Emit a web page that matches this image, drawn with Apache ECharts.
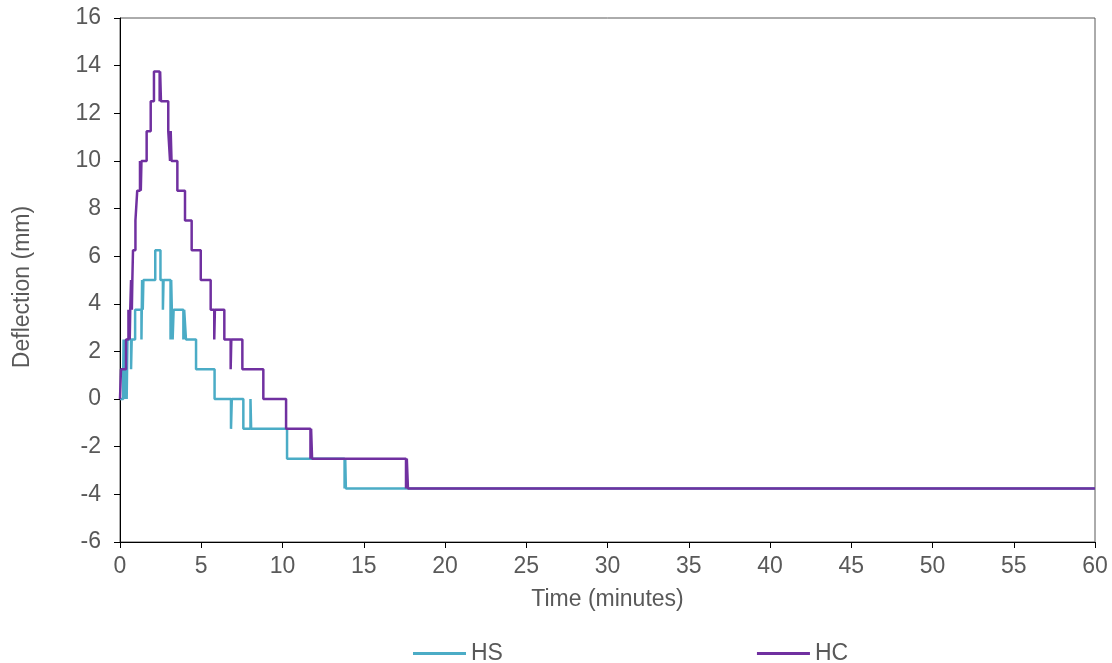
<!DOCTYPE html>
<html>
<head>
<meta charset="utf-8">
<script src="https://cdn.jsdelivr.net/npm/echarts@6/dist/echarts.min.js"></script>
<style>html,body{margin:0;padding:0;background:#fff}#c{width:1112px;height:663px}</style>
</head>
<body>
<div id="c"></div>
<script>
var hsTime = [0,0.20,0.22,0.28,0.33,0.38,0.41,0.46,0.68,0.72,0.93,1.32,1.36,1.40,1.44,2.17,2.49,2.64,2.68,3.11,3.15,3.19,3.24,3.30,3.90,3.95,4.06,4.68,5.82,6.83,6.88,7.59,8.03,8.07,10.28,13.82,13.86,13.90,60];
var hsDefl = [0,1.25,2.5,0,2.5,1.25,0,2.5,1.25,2.5,3.75,2.5,5,3.75,5,6.25,5,3.75,5,2.5,5,3.75,2.5,3.75,2.5,3.75,2.5,1.25,0,-1.25,0,-1.25,0,-1.25,-2.5,-3.75,-2.5,-3.75,-3.75];
var hcTime = [0,0.06,0.37,0.52,0.60,0.63,0.68,0.73,0.76,0.80,0.95,1.06,1.23,1.28,1.32,1.64,1.89,2.09,2.44,2.47,2.52,2.97,3.08,3.12,3.17,3.53,4.00,4.41,4.97,5.58,5.80,5.84,6.42,6.81,6.85,7.53,8.82,10.22,11.72,11.76,11.82,17.60,17.65,17.72,60];
var hcDefl = [0,1.25,2.5,3.75,2.5,3.75,5,3.75,5,6.25,7.5,8.75,10,8.75,10,11.25,12.5,13.75,12.5,13.75,12.5,11.25,10,11.25,10,8.75,7.5,6.25,5,3.75,2.5,3.75,2.5,1.25,2.5,1.25,0,-1.25,-2.5,-1.25,-2.5,-3.75,-2.5,-3.75,-3.75];
var seriesNames = ['HS','HC'];
var xTicks = {min:0,max:60,interval:5};
var yTicks = {min:-6,max:16,interval:2};

function pairs(t,v){return t.map(function(x,i){return [x,v[i]];});}

var font = 'Liberation Sans, Arial, sans-serif';
var fs = 23;
var chart = echarts.init(document.getElementById('c'));
chart.setOption({
  animation:false,
  grid:{left:120,right:17,top:18,bottom:121,show:true,borderColor:'#595959',borderWidth:1},
  legend:{
    data:seriesNames, left:408, top:637, itemWidth:53, itemHeight:3, itemGap:254,
    icon:'rect', textStyle:{fontFamily:font,fontSize:fs,color:'#595959'}
  },
  xAxis:{
    type:'value', min:xTicks.min, max:xTicks.max, interval:xTicks.interval,
    name:'Time (minutes)', nameLocation:'middle', nameGap:46,
    nameTextStyle:{fontFamily:font,fontSize:fs,color:'#595959'},
    axisLine:{onZero:false,lineStyle:{color:'#000',width:1}},
    axisTick:{show:true,length:6,lineStyle:{color:'#000'}},
    axisLabel:{fontFamily:font,fontSize:fs,color:'#595959',margin:13},
    splitLine:{show:false}
  },
  yAxis:{
    type:'value', min:yTicks.min, max:yTicks.max, interval:yTicks.interval,
    name:'Deflection (mm)', nameLocation:'middle', nameGap:86, nameRotate:90,
    nameTextStyle:{fontFamily:font,fontSize:fs,color:'#595959',padding:[0,14,0,0]},
    axisLine:{show:true,onZero:false,lineStyle:{color:'#000',width:1}},
    axisTick:{show:true,length:6,lineStyle:{color:'#000'}},
    axisLabel:{fontFamily:font,fontSize:fs,color:'#595959',margin:19},
    splitLine:{show:false}
  },
  series:[
    {name:'HS',type:'line',step:'end',symbol:'none',data:pairs(hsTime,hsDefl),
     lineStyle:{color:'#4BACC6',width:2.5},itemStyle:{color:'#4BACC6'}},
    {name:'HC',type:'line',step:'end',symbol:'none',data:pairs(hcTime,hcDefl),
     lineStyle:{color:'#7030A0',width:2.5},itemStyle:{color:'#7030A0'}}
  ]
});
</script>
</body>
</html>
